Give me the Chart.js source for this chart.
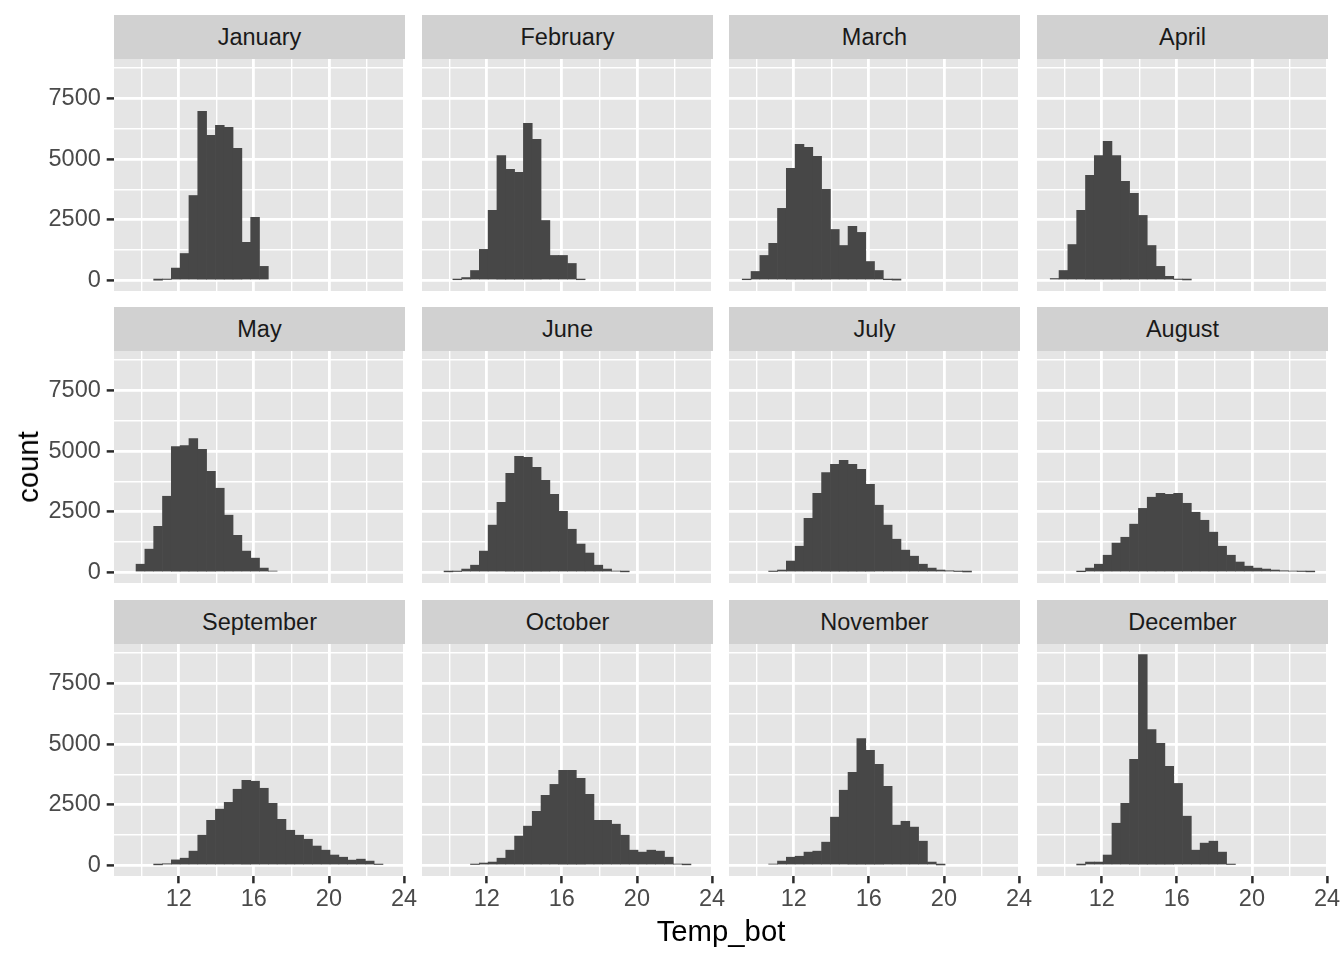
<!DOCTYPE html>
<html>
<head>
<meta charset="utf-8">
<script src="https://cdn.jsdelivr.net/npm/chart.js@4.4.1/dist/chart.umd.min.js"></script>
<style>
  body { margin: 0; background: #fff; font-family: "Liberation Sans", Arial, sans-serif; }
  #wrap { position: relative; width: 1344px; height: 960px; overflow: hidden; }
  .strip { position: absolute; background: #D1D1D1; color: #1A1A1A; font-size: 23.5px;
           text-align: center; height: 44px; line-height: 45px; }
  .title { position: absolute; color: #000; font-size: 29.3px; white-space: nowrap; }
  canvas { position: absolute; }
</style>
</head>
<body>
<div id="wrap"></div>
<script>
// histogram data (30 bins, Temp_bot)
var months = ['January', 'February', 'March', 'April', 'May', 'June',
              'July', 'August', 'September', 'October', 'November', 'December'];

var binCenters = [9.485, 9.955, 10.425, 10.895, 11.365, 11.835, 12.305, 12.775, 13.245, 13.715,
                  14.185, 14.655, 15.125, 15.595, 16.065, 16.535, 17.005, 17.475, 17.945, 18.415,
                  18.885, 19.355, 19.825, 20.295, 20.765, 21.235, 21.705, 22.175, 22.645, 23.115];

var janCounts = [0,0,0,10,40,510,1110,3500,6970,5980, 6390,6310,5440,1570,2600,580,0,0,0,0, 0,0,0,0,0,0,0,0,0,0];
var febCounts = [0,0,30,120,410,1280,2890,5150,4580,4450, 6470,5810,2470,1030,1030,700,30,0,0,0, 0,0,0,0,0,0,0,0,0,0];
var marCounts = [30,370,1030,1530,2970,4620,5610,5480,5110,3750, 2100,1440,2230,1980,780,410,30,15,0,0, 0,0,0,0,0,0,0,0,0,0];
var aprCounts = [80,410,1480,2890,4330,5150,5730,5150,4080,3590, 2680,1440,580,170,40,20,0,0,0,0, 0,0,0,0,0,0,0,0,0,0];
var mayCounts = [0,340,960,1900,3140,5190,5230,5520,5070,4170, 3470,2360,1530,880,590,180,55,0,0,0, 0,0,0,0,0,0,0,0,0,0];
var junCounts = [0,25,40,140,300,880,1950,2890,4080,4780, 4740,4330,3800,3220,2520,1780,1170,800,300,140, 55,25,0,0,0,0,0,0,0,0];
var julCounts = [0,0,0,40,100,470,1080,2230,3260,4120, 4450,4620,4450,4250,3630,2770,1950,1370,920,670, 340,180,100,70,40,20,0,0,0,0];
var augCounts = [0,0,0,30,180,340,710,1210,1450,1990, 2640,3100,3260,3220,3260,2850,2480,2150,1660,1080, 710,430,260,180,140,100,70,55,40,25];
var sepCounts = [0,0,0,25,70,230,300,590,1250,1860, 2320,2600,3140,3510,3470,3180,2560,1900,1450,1250, 1080,800,630,430,340,220,260,180,40,0];
var octCounts = [0,0,0,0,40,100,140,300,630,1210, 1620,2230,2890,3340,3920,3920,3590,2930,1860,1860, 1700,1250,630,550,630,590,340,55,25,0];
var novCounts = [0,0,0,55,180,340,380,550,590,960, 1990,3100,3840,5230,4740,4170,3260,1660,1820,1580, 1000,140,20,0,0,0,0,0,0,0];
var decCounts = [0,0,0,20,140,140,430,1740,2560,4370, 8690,5600,5030,4080,3380,2030,630,920,1000,550, 40,0,0,0,0,0,0,0,0,0];

var allCounts = [janCounts, febCounts, marCounts, aprCounts, mayCounts, junCounts,
                 julCounts, augCounts, sepCounts, octCounts, novCounts, decCounts];

var xMajor = [12, 16, 20, 24];
var xMinor = [10, 14, 18, 22];
var yMajor = [0, 2500, 5000, 7500];
var yMinor = [1250, 3750, 6250, 8750];

// layout (ggplot facet_wrap look)
var panelLeft = [114, 422, 729, 1037];
var panelTop = [59, 351, 644];
var PANEL_W = 291, PANEL_H = 232, STRIP_H = 44;
var X_MIN = 8.545, X_MAX = 24.055;
var maxCount = Math.max.apply(null, allCounts.map(function(a) { return Math.max.apply(null, a); }));
var Y_MIN = -0.05 * maxCount, Y_MAX = 1.05 * maxCount;

var BAR = '#474747';
var PANEL_BG = '#E5E5E5';
var TICK_COL = '#2B2B2B';
var LABEL_COL = '#4A4A4A';
var FONT = 'Liberation Sans';

var wrap = document.getElementById('wrap');

// panel background
var panelBg = {
  id: 'panelBg',
  beforeDraw: function(chart) {
    var a = chart.chartArea, ctx = chart.ctx;
    ctx.save();
    ctx.fillStyle = PANEL_BG;
    ctx.fillRect(a.left, a.top, a.right - a.left, a.bottom - a.top);
    ctx.restore();
  }
};

function makeTicks(list) {
  return function(scale) {
    scale.ticks = list.slice().sort(function(a, b) { return a - b; }).map(function(v) { return { value: v }; });
  };
}

// fix axis size, no label padding so the chart area is the panel
function fixSize(w, h) {
  return function(s) {
    if (w !== null) s.width = w;
    if (h !== null) s.height = h;
    s.paddingTop = 0; s.paddingBottom = 0; s.paddingLeft = 0; s.paddingRight = 0;
  };
}

months.forEach(function(name, i) {
  var col = i % 4, row = Math.floor(i / 4);
  var showY = col === 0, showX = row === 2;
  var leftM = showY ? 74 : 0, bottomM = showX ? 46 : 0;

  // strip header
  var strip = document.createElement('div');
  strip.className = 'strip';
  strip.style.left = panelLeft[col] + 'px';
  strip.style.top = (panelTop[row] - STRIP_H) + 'px';
  strip.style.width = PANEL_W + 'px';
  strip.textContent = name;
  wrap.appendChild(strip);

  var canvas = document.createElement('canvas');
  canvas.width = leftM + PANEL_W + 14;
  canvas.height = PANEL_H + bottomM;
  canvas.style.left = (panelLeft[col] - leftM) + 'px';
  canvas.style.top = panelTop[row] + 'px';
  wrap.appendChild(canvas);

  var counts = allCounts[i];
  var points = binCenters.map(function(x, k) {
    return { x: x, y: counts[k] > 0 ? counts[k] : null };
  });

  new Chart(canvas, {
    type: 'bar',
    data: {
      datasets: [{
        data: points,
        backgroundColor: BAR,
        borderWidth: 0,
        barPercentage: 1,
        categoryPercentage: 1
      }]
    },
    options: {
      responsive: false,
      animation: false,
      events: [],
      layout: { padding: { left: 0, right: 14, top: 0, bottom: 0 }, autoPadding: false },
      plugins: { legend: { display: false }, tooltip: { enabled: false } },
      scales: {
        x: {
          type: 'linear',
          min: X_MIN,
          max: X_MAX,
          offset: false,
          afterBuildTicks: makeTicks(xMajor.concat(xMinor)),
          afterFit: fixSize(null, bottomM),
          border: { display: false },
          grid: {
            offset: false,
            color: '#FFFFFF',
            lineWidth: function(c) { return c.tick && xMajor.indexOf(c.tick.value) >= 0 ? 2.8 : 1.4; },
            drawTicks: showX,
            tickLength: 7.3,
            tickWidth: 2.5,
            tickColor: function(c) { return c.tick && xMajor.indexOf(c.tick.value) >= 0 ? TICK_COL : 'rgba(0,0,0,0)'; }
          },
          ticks: {
            display: showX,
            autoSkip: false,
            maxRotation: 0,
            padding: 2,
            color: LABEL_COL,
            font: { family: FONT, size: 23.5 },
            callback: function(v) { return xMajor.indexOf(v) >= 0 ? String(v) : ''; }
          }
        },
        y: {
          type: 'linear',
          min: Y_MIN,
          max: Y_MAX,
          afterBuildTicks: makeTicks(yMajor.concat(yMinor)),
          afterFit: fixSize(leftM, null),
          border: { display: false },
          grid: {
            color: '#FFFFFF',
            lineWidth: function(c) { return c.tick && yMajor.indexOf(c.tick.value) >= 0 ? 2.8 : 1.4; },
            drawTicks: showY,
            tickLength: 7.3,
            tickWidth: 2.5,
            tickColor: function(c) { return c.tick && yMajor.indexOf(c.tick.value) >= 0 ? TICK_COL : 'rgba(0,0,0,0)'; }
          },
          ticks: {
            display: showY,
            autoSkip: false,
            padding: 5.9,
            color: LABEL_COL,
            font: { family: FONT, size: 23.5 },
            callback: function(v) { return yMajor.indexOf(v) >= 0 ? String(v) : ''; }
          }
        }
      }
    },
    plugins: [panelBg]
  });
});

// axis titles
var yTitle = document.createElement('div');
yTitle.className = 'title';
yTitle.textContent = 'count';
yTitle.style.left = '28px';
yTitle.style.top = '467px';
yTitle.style.transform = 'translate(-50%, -50%) rotate(-90deg)';
wrap.appendChild(yTitle);

var xTitle = document.createElement('div');
xTitle.className = 'title';
xTitle.textContent = 'Temp_bot';
xTitle.style.left = '721px';
xTitle.style.top = '931px';
xTitle.style.transform = 'translate(-50%, -50%)';
wrap.appendChild(xTitle);
</script>
</body>
</html>
